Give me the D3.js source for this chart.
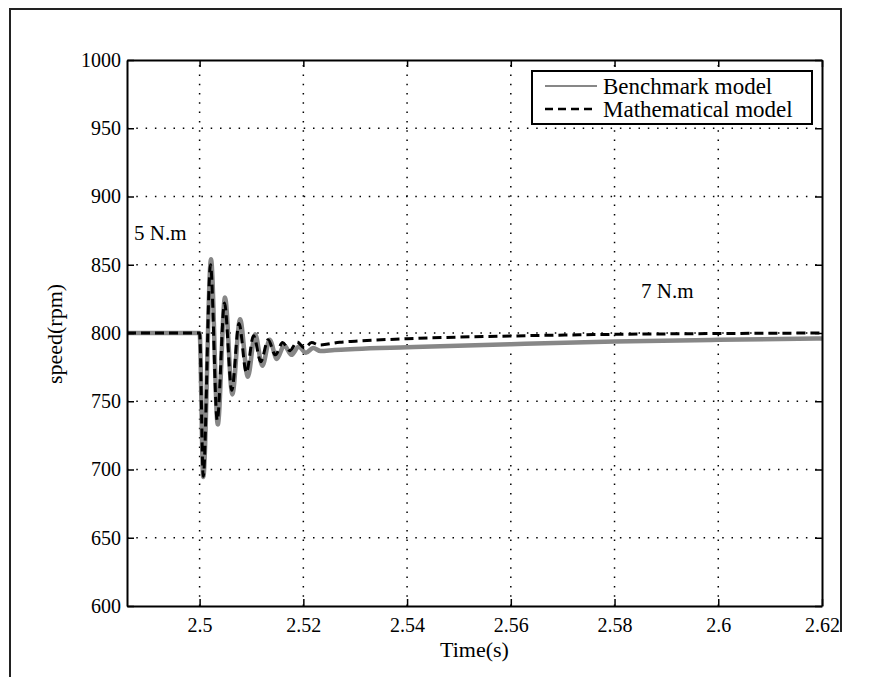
<!DOCTYPE html>
<html>
<head>
<meta charset="utf-8">
<script src="https://cdn.jsdelivr.net/npm/d3@7"></script>
<style>
  body { margin: 0; background: #fff; }
  text { font-family: "Liberation Serif", "Times New Roman", serif; fill: #000; }
</style>
</head>
<body>
<script>
const w = 894;
const h = 677;
const margin = { top: 60, right: 72, bottom: 71, left: 127 };

// Data

const timeTicks = [2.5, 2.52, 2.54, 2.56, 2.58, 2.6, 2.62];
const speedTicks = [600, 650, 700, 750, 800, 850, 900, 950, 1000];

const benchTime = [2.486, 2.5, 2.5007, 2.5022, 2.5035, 2.5049, 2.5063, 2.5078, 2.5093, 2.5107,
  2.5121, 2.5135, 2.5149, 2.5163, 2.5177, 2.5191, 2.5205, 2.5219, 2.5233, 2.526,
  2.53, 2.54, 2.56, 2.58, 2.6, 2.62];
const benchSpeed = [800, 800, 694.5, 854, 733, 826, 755, 810, 768, 799,
  776, 795, 781, 791, 784, 790, 785.5, 789, 786.8, 787.6,
  788.3, 789.5, 791.8, 793.8, 795, 796];

const mathTime = [2.486, 2.5, 2.5007, 2.5021, 2.5034, 2.5048, 2.5062, 2.5076, 2.509, 2.5104,
  2.5118, 2.5132, 2.5146, 2.516, 2.5174, 2.5188, 2.5202, 2.5216, 2.523, 2.527,
  2.53, 2.54, 2.56, 2.58, 2.6, 2.62];
const mathSpeed = [800, 800, 695, 850, 736, 822, 758, 807, 771, 798,
  779, 795, 784, 793, 787, 793.5, 789, 793, 791.2, 793.2,
  794, 795.8, 797.8, 799, 799.6, 800];

const legendLabels = ["Benchmark model", "Mathematical model"];

// SVG

const svg = d3.select("body").append("svg").attr("width", w).attr("height", h);

// Outer frame

svg.append("path")
  .attr("d", `M10,${h} V9 H841 V632`)
  .attr("fill", "none")
  .attr("stroke", "#222")
  .attr("stroke-width", 2);

// Scales

const x = d3.scaleLinear().domain([2.486, 2.62]).range([margin.left, w - margin.right]);
const y = d3.scaleLinear().domain([600, 1000]).range([h - margin.bottom, margin.top]);

// Grid

const grid = svg.append("g");
grid.selectAll(".gx")
  .data(timeTicks.slice(0, -1))
  .join("line")
  .attr("x1", (d) => x(d)).attr("x2", (d) => x(d))
  .attr("y1", y(600)).attr("y2", y(1000));
grid.selectAll(".gy")
  .data(speedTicks.slice(1, -1))
  .join("line")
  .attr("x1", x(2.486)).attr("x2", x(2.62))
  .attr("y1", (d) => y(d)).attr("y2", (d) => y(d));
grid.selectAll("line")
  .attr("stroke", "#000")
  .attr("stroke-width", 1.5)
  .attr("stroke-dasharray", "1.5,7.8");

// Clip

svg.append("clipPath").attr("id", "plot-clip")
  .append("rect")
  .attr("x", x(2.486)).attr("y", y(1000))
  .attr("width", x(2.62) - x(2.486)).attr("height", y(600) - y(1000));

// Lines

const line = d3.line().curve(d3.curveMonotoneX);

svg.append("path")
  .attr("d", line(benchTime.map((t, i) => [x(t), y(benchSpeed[i])])))
  .attr("fill", "none")
  .attr("stroke", "#878787")
  .attr("stroke-width", 4.5)
  .attr("clip-path", "url(#plot-clip)");

svg.append("path")
  .attr("d", line(mathTime.map((t, i) => [x(t), y(mathSpeed[i])])))
  .attr("fill", "none")
  .attr("stroke", "#000")
  .attr("stroke-width", 3)
  .attr("stroke-dasharray", "9,5")
  .attr("clip-path", "url(#plot-clip)");

// Axes

const fmtX = (d) => String(+d.toFixed(2));

const axBottom = svg.append("g")
  .attr("transform", `translate(0,${y(600)})`)
  .call(d3.axisBottom(x).tickValues(timeTicks).tickFormat(fmtX).tickSizeInner(-7).tickSizeOuter(0).tickPadding(12));
const axTop = svg.append("g")
  .attr("transform", `translate(0,${y(1000)})`)
  .call(d3.axisTop(x).tickValues(timeTicks).tickFormat("").tickSizeInner(-7).tickSizeOuter(0));
const axLeft = svg.append("g")
  .attr("transform", `translate(${x(2.486)},0)`)
  .call(d3.axisLeft(y).tickValues(speedTicks).tickFormat(d3.format("d")).tickSizeInner(-7).tickSizeOuter(0).tickPadding(6));
const axRight = svg.append("g")
  .attr("transform", `translate(${x(2.62)},0)`)
  .call(d3.axisRight(y).tickValues(speedTicks).tickFormat("").tickSizeInner(-7).tickSizeOuter(0));

[axBottom, axTop, axLeft, axRight].forEach((g) => {
  g.select(".domain").attr("stroke", "#000").attr("stroke-width", 2);
  g.selectAll(".tick line").attr("stroke", "#000").attr("stroke-width", 1.5);
  g.selectAll(".tick text").style("font-size", "20px").style("font-family", '"Liberation Serif", serif').attr("fill", "#000");
});

// Axis labels

svg.append("text")
  .attr("x", (x(2.486) + x(2.62)) / 2)
  .attr("y", 657)
  .attr("text-anchor", "middle")
  .style("font-size", "22px")
  .text("Time(s)");

svg.append("text")
  .attr("transform", `translate(62,334) rotate(-90)`)
  .attr("text-anchor", "middle")
  .style("font-size", "22px")
  .text("speed(rpm)");

// Annotations

svg.append("text").attr("x", 134).attr("y", 240).style("font-size", "21px").text("5 N.m");
svg.append("text").attr("x", 641).attr("y", 298).style("font-size", "21px").text("7 N.m");

// Legend

const legend = svg.append("g");
legend.append("rect")
  .attr("x", 532).attr("y", 71)
  .attr("width", 280).attr("height", 53)
  .attr("fill", "#fff")
  .attr("stroke", "#000")
  .attr("stroke-width", 2);

const legendY = [86, 109];
legend.append("line")
  .attr("x1", 545).attr("x2", 597)
  .attr("y1", legendY[0]).attr("y2", legendY[0])
  .attr("stroke", "#878787").attr("stroke-width", 2);
legend.append("line")
  .attr("x1", 545).attr("x2", 597)
  .attr("y1", legendY[1]).attr("y2", legendY[1])
  .attr("stroke", "#000").attr("stroke-width", 2.5)
  .attr("stroke-dasharray", "8,5");

legend.selectAll(".lt")
  .data(legendLabels)
  .join("text")
  .attr("x", 603)
  .attr("y", (d, i) => legendY[i])
  .attr("dy", "0.35em")
  .style("font-size", "23px")
  .text((d) => d);
</script>
</body>
</html>
